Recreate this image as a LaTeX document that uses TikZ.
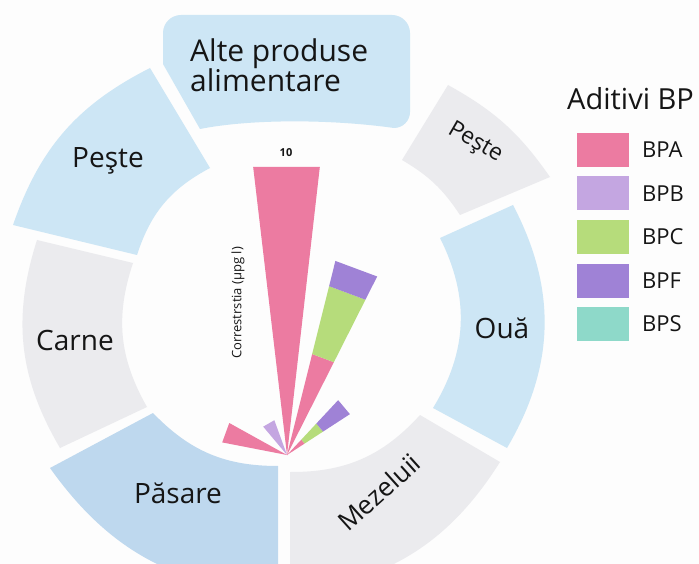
\documentclass[tikz,border=0pt]{standalone}
\usepackage{fontspec}
\setmainfont{Open Sans}
\definecolor{bgc}{HTML}{FDFDFD}
\definecolor{segblue}{HTML}{CDE6F5}
\definecolor{segblued}{HTML}{BED8EE}
\definecolor{seggray}{HTML}{EBEBEE}
\definecolor{cpink}{HTML}{EC7BA1}
\definecolor{clav}{HTML}{C4A6E1}
\definecolor{cgreen}{HTML}{B6DC7B}
\definecolor{cpurp}{HTML}{9F82D6}
\definecolor{cteal}{HTML}{8ED9C9}
\definecolor{txt}{HTML}{151515}
\begin{document}
\begin{tikzpicture}[x=1pt,y=1pt,
  seglab/.style={font=\fontsize{28}{30}\selectfont, text=txt, inner sep=0pt},
  legbox/.style={minimum width=52pt, minimum height=34pt, inner sep=0pt, draw=none},
  leglab/.style={anchor=west, font=\fontsize{22}{24}\selectfont, text=txt, inner sep=0pt}]
\useasboundingbox (0,0) rectangle (699,-564);
\clip (0,0) rectangle (699,-564);
\fill[bgc] (0,0) rectangle (699,-564);

% ring segments
\fill[segblue] (150,-68) to[bend right=22] (13,-225) -- (137,-255) to[bend left=22] (210,-168) -- cycle;
\fill[seggray] (37,-240) to[bend right=24] (60,-448) -- (147,-407) to[bend left=24] (133,-263) -- cycle;
\fill[segblued] (50,-468) to[bend right=26] (278,-592) -- (278,-466) to[bend left=23] (153,-413) -- cycle;
\fill[seggray] (290,-592) to[bend right=26] (500,-462) -- (420,-415) to[bend left=24] (290,-472) -- cycle;
\fill[segblue] (507,-448) to[bend right=29] (513,-205) -- (440,-238) to[bend left=29] (433,-408) -- cycle;
\fill[seggray] (550,-177) to[bend right=13] (448,-85) -- (402,-160) to[bend left=13] (460,-215) -- cycle;

% top box
\fill[segblue] (163,-64) -- (163,-33) arc[start angle=180, end angle=90, radius=18]
  -- (392,-15) arc[start angle=90, end angle=0, radius=18]
  -- (410,-112) arc[start angle=0, end angle=-90, radius=16]
  -- (394,-128) .. controls (330,-119) and (250,-119) .. (200,-129) -- cycle;

% radial bars
\coordinate (apex) at (287,-455);
\begin{scope}[shift={(apex)}]
  \fill[cpink] (0,0) -- (83.5:290) -- (96.7:290) -- cycle;
  \fill[cpink] (0,0) -- (63.2:104) -- (76:104) -- cycle;
  \fill[cgreen] (63.2:104) -- (63.2:174) -- (76:174) -- (76:104) -- cycle;
  \fill[cpurp] (63.2:174) -- (63.2:200) -- (76:200) -- (76:174) -- cycle;
  \fill[cpink] (0,0) -- (33:21) -- (47:21) -- cycle;
  \fill[cgreen] (33:21) -- (33:43) -- (47:43) -- (47:21) -- cycle;
  \fill[cpurp] (33:43) -- (33:75) -- (47:75) -- (47:43) -- cycle;
  \fill[clav] (0,0) -- (110:37) -- (130:37) -- cycle;
  \fill[cpink] (0,0) -- (151:66) -- (169:66) -- cycle;
\end{scope}

% labels
\node[font=\bfseries\fontsize{11}{12}\selectfont, text=txt, inner sep=0pt] (ten) at (286,-153) {10};
\node[font=\fontsize{13}{14}\selectfont, text=txt, inner sep=0pt, rotate=90] (axis) at (238,-303) {Correstrstia (µpg l)};

\node[seglab, anchor=base west, font=\fontsize{30}{32}\selectfont] (alte1) at (190,-62) {Alte produse};
\node[seglab, anchor=base west, font=\fontsize{30}{32}\selectfont] (alte2) at (190,-92) {alimentare};
\node[seglab, anchor=base] (pesteL) at (108,-168) {Peşte};
\node[seglab, anchor=base] (carne) at (75,-350) {Carne};
\node[seglab, anchor=base] (pasare) at (178,-503) {Păsare};
\node[seglab, anchor=base] (oua) at (502,-338) {Ouă};
\node[seglab, rotate=42, font=\fontsize{26}{28}\selectfont] (mez) at (379,-492) {Mezeluii};
\node[seglab, rotate=-30, font=\fontsize{23}{25}\selectfont] (pesteR) at (475,-143) {Peşte};

% legend
\node[font=\fontsize{29}{31}\selectfont, text=txt, inner sep=0pt, anchor=base west] (legt) at (567,-110) {Aditivi BP};
\node[legbox, fill=cpink] (lA) at (603,-150) {};
\node[legbox, fill=clav] (lB) at (603,-193.5) {};
\node[legbox, fill=cgreen] (lC) at (603,-237) {};
\node[legbox, fill=cpurp] (lF) at (603,-281) {};
\node[legbox, fill=cteal] (lS) at (603,-324) {};
\node[leglab] (tA) at (642,-150) {BPA};
\node[leglab] (tB) at (642,-193.5) {BPB};
\node[leglab] (tC) at (642,-237) {BPC};
\node[leglab] (tF) at (642,-281) {BPF};
\node[leglab] (tS) at (642,-324) {BPS};
\end{tikzpicture}
\end{document}
